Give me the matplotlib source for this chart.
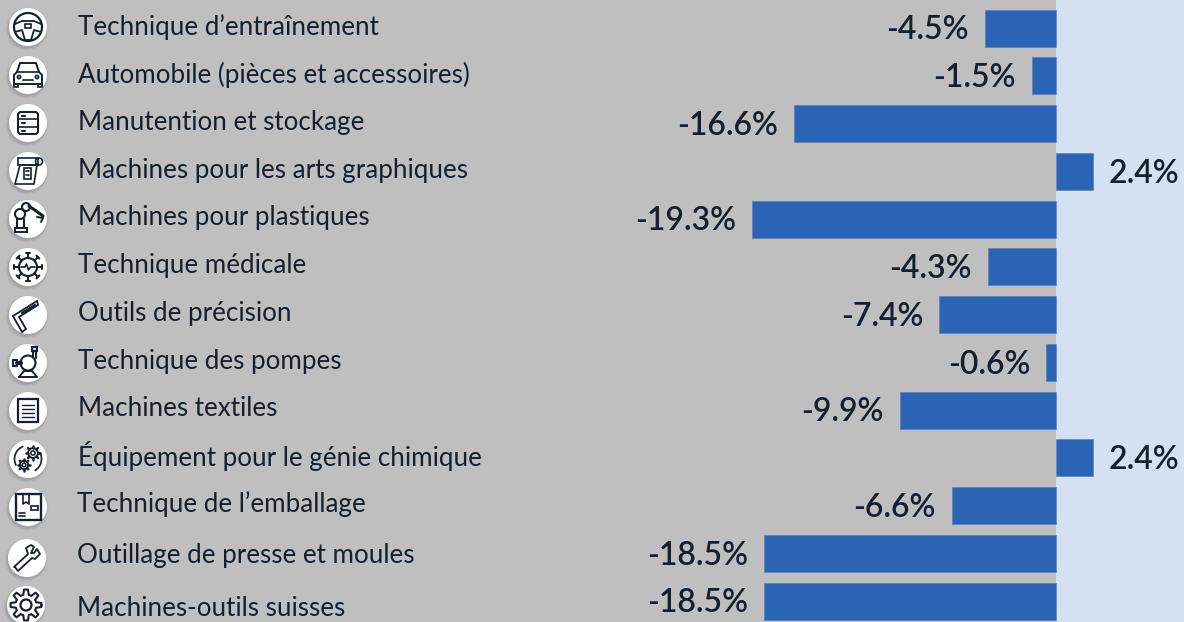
import matplotlib
matplotlib.use("Agg")
import matplotlib.pyplot as plt
from matplotlib.patches import Circle, Rectangle, Polygon, Arc, FancyBboxPatch
import numpy as np

# donnees
categories = ["Technique d’entraînement", "Automobile (pièces et accessoires)",
              "Manutention et stockage", "Machines pour les arts graphiques",
              "Machines pour plastiques", "Technique médicale", "Outils de précision",
              "Technique des pompes", "Machines textiles",
              "Équipement pour le génie chimique", "Technique de l’emballage",
              "Outillage de presse et moules", "Machines-outils suisses"]
values = [-4.5, -1.5, -16.6, 2.4, -19.3, -4.3, -7.4, -0.6, -9.9, 2.4, -6.6, -18.5, -18.5]

# mise en page, en pixels de l'image
label_x = [78, 78, 78, 78, 78, 78, 78, 78, 78, 78, 77, 77, 77]
label_y = [27, 75, 122.5, 170.5, 217.5, 265, 313, 361, 409, 456, 504, 556, 608]
icon_x = [28, 28, 28, 28, 28, 28, 28, 28, 28, 28, 28, 27, 26]
icon_y = [27, 75, 123, 171, 219, 267, 315, 363, 411, 459, 507, 558, 605]

GREY = "#bfbfbf"
PALE = "#d5e0f0"
BLUE = "#2b63b5"
INK = "#14202e"

plt.rcParams['font.family'] = ['Lato', 'DejaVu Sans']

fig = plt.figure(figsize=(11.84, 6.22), dpi=100, facecolor=GREY)
ax = fig.add_axes([0, 0, 1, 1])
ax.set_facecolor(GREY)
ax.set_xlim(-1055.6 / 15.75, 128.4 / 15.75)
ax.set_ylim((622 - 28.2) / 47.75, -28.2 / 47.75)
ax.axis("off")
ax.axvspan(0, 128.4 / 15.75, color=PALE, lw=0, zorder=0)

y = np.arange(len(values))
ax.barh(y, values, height=37 / 47.75, color=BLUE, edgecolor="#4f7dbf", linewidth=0.4, zorder=2)

for yi, v in zip(y, values):
    if v < 0:
        ax.annotate(f"{v}%", (v, yi), xytext=(-11.5, -1.5), textcoords="offset points",
                    ha="right", va="center", fontsize=23, fontweight="semibold", color=INK)
    else:
        ax.annotate(f"{v}%", (v, yi), xytext=(10.8, -1.5), textcoords="offset points",
                    ha="left", va="center", fontsize=23, fontweight="semibold", color=INK)

# calque en pixels pour les libelles et les pictos
px = fig.add_axes([0, 0, 1, 1])
px.set_xlim(0, 1184)
px.set_ylim(622, 0)
px.axis("off")
px.patch.set_alpha(0)

for name, lx, ly in zip(categories, label_x, label_y):
    px.text(lx, ly, name, ha="left", va="center", fontsize=18.75, color=INK)


def line(cx, cy, xs, ys, lw=1.2):
    px.plot(np.array(xs) + cx, np.array(ys) + cy, color=INK, lw=lw, zorder=6,
            solid_capstyle="round", solid_joinstyle="round")


def ring(cx, cy, x, y, r, lw=1.2):
    px.add_patch(Circle((cx + x, cy + y), r, fc="none", ec=INK, lw=lw, zorder=6))


def box(cx, cy, x, y, w, h, lw=1.2):
    px.add_patch(Rectangle((cx + x, cy + y), w, h, fc="none", ec=INK, lw=lw, zorder=6))


def wheel(cx, cy):
    ring(cx, cy, 0, 0, 14, 1.6)
    line(cx, cy, [-13, -6, 6, 13], [-3, -6, -6, -3], 1.3)
    line(cx, cy, [-13, -6, -3, 3, 6, 13], [5, 3, 13, 13, 3, 5], 1.3)
    box(cx, cy, -3, -3, 6, 4)


def car(cx, cy):
    line(cx, cy, [-14, -14, -11, -8, 8, 11, 14, 14, -14], [9, 0, -3, -12, -12, -3, 0, 9, 9], 1.4)
    line(cx, cy, [-11, 11], [-3, -3])
    ring(cx, cy, -9, 2, 1.6)
    ring(cx, cy, 9, 2, 1.6)
    line(cx, cy, [-5, 5], [5, 5])
    box(cx, cy, -14, 9, 4, 3)
    box(cx, cy, 10, 9, 4, 3)


def shelves(cx, cy):
    px.add_patch(FancyBboxPatch((cx - 10, cy - 11), 20, 22, boxstyle="round,pad=0,rounding_size=3",
                                fc="none", ec=INK, lw=1.5, zorder=6))
    line(cx, cy, [-10, 10], [-4, -4])
    line(cx, cy, [-10, 10], [4, 4])
    for dy in (-7.5, 0, 7.5):
        line(cx, cy, [-6, -3], [dy, dy], 1.5)


def printer(cx, cy):
    box(cx, cy, -10, -13, 20, 7)
    ring(cx, cy, 11, -9.5, 3.5)
    line(cx, cy, [-8, 9, 6, -13, -8], [-6, -6, 13, 13, -6])
    box(cx, cy, -4, -3, 7, 11)
    line(cx, cy, [-2, 1], [0, 0])
    line(cx, cy, [-2, 1], [4, 4])


def robot(cx, cy):
    ring(cx, cy, -8, -5, 5, 1.5)
    ring(cx, cy, -2, -12, 4, 1.5)
    line(cx, cy, [1, 11, 15], [-13, -6, -3], 2.2)
    line(cx, cy, [-11, -11, -4, -4], [0, 9, 9, 0], 1.5)
    box(cx, cy, -13, 9, 12, 4, 1.4)
    line(cx, cy, [9, 15, 13], [-2, -1, 3], 1.4)


def virus(cx, cy):
    ring(cx, cy, 0, 0, 9, 1.5)
    for a in np.arange(8) * np.pi / 4:
        line(cx, cy, [9 * np.cos(a), 14 * np.cos(a)], [9 * np.sin(a), 14 * np.sin(a)], 1.5)
        line(cx, cy, [14 * np.cos(a) - 2 * np.sin(a), 14 * np.cos(a) + 2 * np.sin(a)],
             [14 * np.sin(a) + 2 * np.cos(a), 14 * np.sin(a) - 2 * np.cos(a)], 1.5)
    line(cx, cy, [-7, -3, -1.5, 0.5, 2.5, 7], [0, 0, -3, 3, 0, 0])


def square_tool(cx, cy):
    px.add_patch(Polygon([(cx - 15, cy + 1), (cx + 9, cy - 14), (cx + 10, cy - 10),
                          (cx - 9, cy + 2), (cx - 2, cy + 14), (cx - 6, cy + 17)],
                         closed=True, fc="none", ec=INK, lw=1.3, zorder=6))
    line(cx, cy, [-6, 7], [-2, -10], 1.6)


def pump(cx, cy):
    ring(cx, cy, 0, 0, 7.5, 1.5)
    line(cx, cy, [-11, -7], [0, 0], 3)
    box(cx, cy, -15, -3, 4, 6, 1.5)
    line(cx, cy, [5, 5, 8, 8], [-6, -12, -12, -5], 1.5)
    box(cx, cy, 4, -16, 5, 4, 1.6)
    line(cx, cy, [-9, -4, 4, 9, -9], [14, 8, 8, 14, 14], 1.4)


def textile(cx, cy):
    box(cx, cy, -10, -12, 20, 23, 1.6)
    for dy in (-6, -2, 2, 6):
        line(cx, cy, [-6, 6], [dy, dy], 1.0)


def gear(cx, cy, x, y, r):
    ring(cx, cy, x, y, r * 0.7, 1.3)
    ring(cx, cy, x, y, r * 0.3, 1.1)
    for a in np.arange(8) * np.pi / 4:
        line(cx, cy, [x + r * 0.7 * np.cos(a), x + r * np.cos(a)],
             [y + r * 0.7 * np.sin(a), y + r * np.sin(a)], 1.8)


def chem(cx, cy):
    gear(cx, cy, 5, -6, 7)
    gear(cx, cy, -4, 6, 6)
    px.add_patch(Arc((cx, cy), 27, 27, theta1=150, theta2=250, ec=INK, lw=1.2, zorder=6))
    px.add_patch(Arc((cx, cy), 27, 27, theta1=330, theta2=60, ec=INK, lw=1.2, zorder=6))


def parcel(cx, cy):
    box(cx, cy, -12, -13, 25, 26, 1.7)
    line(cx, cy, [-5, -5, -2, 1, 1], [-13, -3, -5, -3, -13])
    box(cx, cy, 3, -1, 7, 4)
    line(cx, cy, [-9, -3], [6, 6])
    line(cx, cy, [-9, -3], [9, 9])


def wrench(cx, cy):
    line(cx, cy, [-12, -9, 5, 8, 13, 10, 7, 4, 7, 4, -1, 1, -13, -12],
         [9, 13, 0, 1, -4, -9, -5, -5, -11, -13, -10, -4, 9, 9], 1.3)


def cog(cx, cy):
    ring(cx, cy, 0, 0, 5.5, 1.6)
    t = np.linspace(0, 2 * np.pi, 49)
    r = 13 + 2.5 * np.sign(np.cos(8 * t))
    line(cx, cy, r * np.cos(t), r * np.sin(t), 1.5)


icons = [wheel, car, shelves, printer, robot, virus, square_tool, pump, textile, chem, parcel, wrench, cog]

for draw, cx, cy in zip(icons, icon_x, icon_y):
    # ombre portee
    for r, a in ((21.5, 0.05), (20.5, 0.09), (19.5, 0.13)):
        px.add_patch(Circle((cx - 1, cy + 2), r, fc="#555555", ec="none", alpha=a, zorder=4))
    px.add_patch(Circle((cx, cy), 19, fc="white", ec="none", zorder=5))
    draw(cx, cy)

px.set_xlim(0, 1184)
px.set_ylim(622, 0)
fig.savefig("out.png", dpi=100, facecolor=GREY)
